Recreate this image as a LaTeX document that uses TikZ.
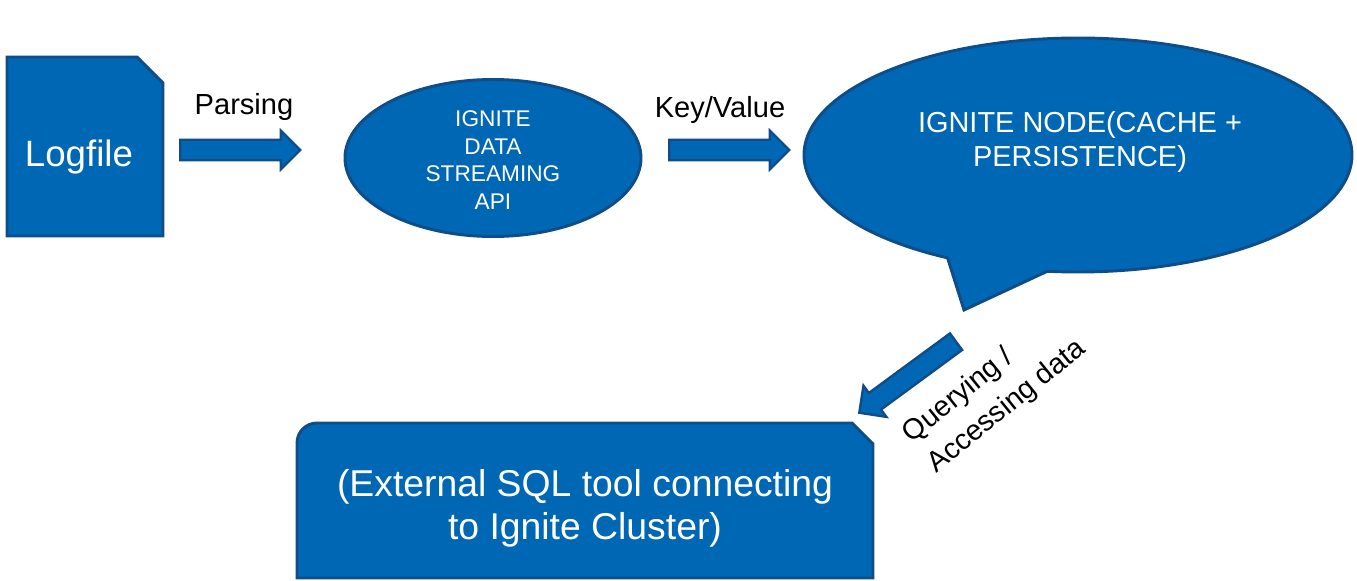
\documentclass[tikz,border=0pt]{standalone}
\usepackage{fontspec}
\setmainfont{Liberation Sans}
\usepackage{xcolor}
\usetikzlibrary{shapes.arrows}
\usetikzlibrary{shapes.callouts}
\usetikzlibrary{shapes.geometric}

\definecolor{igblue}{HTML}{0067B4}
\definecolor{igedge}{HTML}{0E4D8A}

\begin{document}
\begin{tikzpicture}[x=0.75pt,y=-0.75pt,
        shapebox/.style={fill=igblue,draw=igedge,line width=2.2pt},
        blockarrow/.style={single arrow,fill=igblue,draw=igedge,line width=1.8pt,minimum height=90pt,single arrow head extend=6.8pt,inner xsep=0pt,inner ysep=6.8pt,anchor=tail},
        whitetext/.style={text=white,align=center,inner sep=0pt},
        blacktext/.style={text=black,inner sep=0pt,font=\fontsize{21.8pt}{26pt}\selectfont}]
                \useasboundingbox (0,0) rectangle (1357,581);

                % logfile card
                \draw[shapebox] (7,57) -- (137,57) -- (163,83) -- (163,236) -- (7,236) -- cycle;
                \node[whitetext,anchor=base,font=\fontsize{27.5pt}{33pt}\selectfont] (logfile) at (79,167) {Logfile};

                \node[blockarrow] (parsearrow) at (179,150) {};
                \node[blacktext,anchor=base] (parsing) at (244,115) {Parsing};

                % streaming api
                \node[ellipse,shapebox,minimum width=222pt,minimum height=117.75pt,inner sep=0pt] (stream) at (493,158) {};
                \node[whitetext,font=\fontsize{17pt}{20.8pt}\selectfont] (streamtext) at (493,160) {IGNITE\\DATA\\STREAMING\\API};

                \node[blockarrow] (kvarrow) at (668,150) {};
                \node[blacktext,anchor=base] (keyvalue) at (720,118) {Key/Value};

                % ignite node bubble
                \node[ellipse callout,shapebox,minimum width=411pt,minimum height=175.5pt,inner sep=0pt,callout absolute pointer={(964,310)},callout pointer arc=22] (ignite) at (1078,155) {};
                \node[whitetext,font=\fontsize{21.7pt}{26.2pt}\selectfont] (ignitetext) at (1080,142) {IGNITE NODE(CACHE +\\PERSISTENCE)};

                \node[blockarrow,rotate=216.3] (queryarrow) at (957,341) {};
                \node[blacktext,align=left,rotate=39,font=\fontsize{21.5pt}{29pt}\selectfont] (querying) at (995,392) {Querying /\\Accessing data};

                % sql tool box
                \draw[shapebox] (297,578) [rounded corners=15pt] -- (297,423) [sharp corners] -- (852,423) -- (873,444) -- (873,578) -- cycle;
                \node[whitetext,font=\fontsize{28pt}{32.3pt}\selectfont] (sqltool) at (585,508) {(External SQL tool connecting\\to Ignite Cluster)};
            \end{tikzpicture}
\end{document}
